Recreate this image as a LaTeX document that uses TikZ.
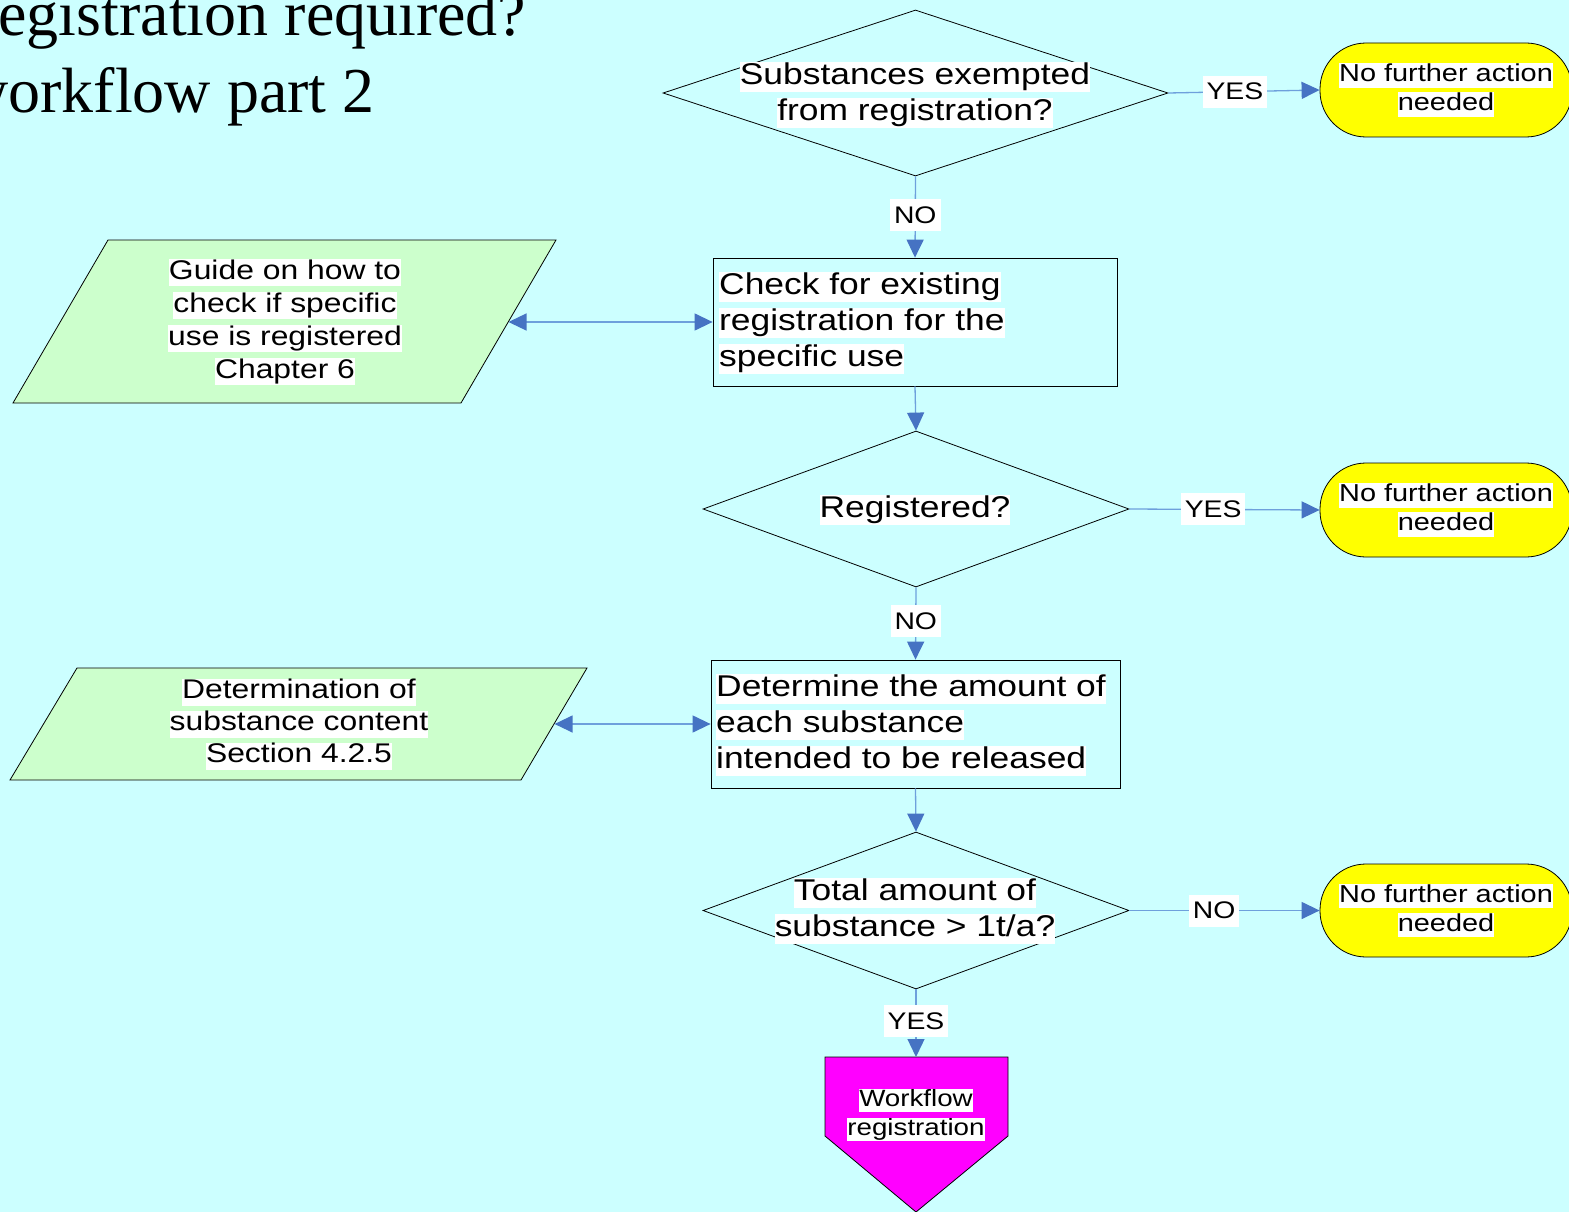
\documentclass[tikz,border=0pt]{standalone}
\usepackage{fontspec}
\setmainfont{Liberation Sans}[FakeStretch=1.18]
\newfontfamily\titlefont{Liberation Serif}
\usetikzlibrary{arrows.meta,shapes.geometric}
\definecolor{bgcyan}{RGB}{204,255,255}
\definecolor{linkblue}{RGB}{110,160,220}
\definecolor{tipblue}{RGB}{70,115,195}
\definecolor{paleg}{RGB}{204,255,204}
\definecolor{termyellow}{RGB}{255,255,0}
\definecolor{pentmagenta}{RGB}{255,0,255}
\newcommand\hlt[1]{{\setlength{\fboxsep}{0pt}\colorbox{white}{\rule[-0.25em]{0pt}{1em}#1}}}
\tikzset{
  conn/.style={draw=linkblue, line width=1.3pt, -{Triangle[length=18pt,width=17pt,color=tipblue]}},
  dconn/.style={draw=linkblue, line width=1.3pt, {Triangle[length=18pt,width=17pt,color=tipblue]}-{Triangle[length=18pt,width=17pt,color=tipblue]}},
  lbl/.style={fill=white, inner xsep=4pt, inner ysep=0pt, minimum height=32pt, font=\fontsize{24}{29}\selectfont, text=black},
  diam/.style={diamond, draw=black, line width=0.8pt, inner sep=0pt},
  boxx/.style={rectangle, draw=black, line width=0.8pt, inner sep=0pt},
  term/.style={rectangle, rounded corners=46pt, draw=black, line width=0.8pt, fill=termyellow, inner sep=0pt, align=center, font=\fontsize{24.5}{29}\selectfont},
  maintxt/.style={inner sep=0pt, font=\fontsize{30}{36}\selectfont},
  sidetxt/.style={inner sep=0pt, align=center, font=\fontsize{27}{33}\selectfont},
  shapeline/.style={draw=black, line width=0.8pt},
  titletxt/.style={inner sep=0pt, anchor=base west, font=\titlefont\fontsize{64}{72}\selectfont}
}
\begin{document}
\begin{tikzpicture}[x=1pt,y=-1pt]
\useasboundingbox (0,0) rectangle (1569,1212);
\clip (0,0) rectangle (1569,1212);
\fill[bgcyan] (0,0) rectangle (1569,1212);

% title
\node[titletxt] (title1) at (-23,36) {registration required?};
\node[titletxt] (title2) at (-38,113) {workflow part 2};

% decision 1
\node[diam, minimum width=505pt, minimum height=166pt] (d1) at (915.5,93) {};
\node[maintxt, align=center] (d1t) at (915,95) {\hlt{Substances exempted}\\\hlt{from registration?}};
\node[term, minimum width=252pt, minimum height=94pt] (t1) at (1446,90) {\hlt{No further action}\\\hlt{needed}};

% box 1
\node[boxx, minimum width=404pt, minimum height=128pt] (b1) at (915,322) {};
\node[maintxt, align=left, anchor=west] (b1t) at (719,323) {\hlt{Check for existing}\\\hlt{registration for the}\\\hlt{specific use}};

% parallelogram 1
\draw[shapeline, fill=paleg] (108,240) -- (556,240) -- (461,403) -- (13,403) -- cycle;
\coordinate (p1r) at (508.5,322);
\node[sidetxt] (p1t) at (285,322) {\hlt{Guide on how to}\\\hlt{check if specific}\\\hlt{use is registered}\\\hlt{Chapter 6}};

% decision 2
\node[diam, minimum width=426pt, minimum height=156pt] (d2) at (916,509) {};
\node[maintxt] (d2t) at (915,510) {\hlt{Registered?}};
\node[term, minimum width=252pt, minimum height=94pt] (t2) at (1446,510) {\hlt{No further action}\\\hlt{needed}};

% box 2
\node[boxx, minimum width=409pt, minimum height=128pt] (b2) at (915.5,724) {};
\node[maintxt, align=left, anchor=west] (b2t) at (716,725) {\hlt{Determine the amount of}\\\hlt{each substance}\\\hlt{intended to be released}};

% parallelogram 2
\draw[shapeline, fill=paleg] (77,668) -- (587,668) -- (521,780) -- (10,780) -- cycle;
\coordinate (p2r) at (554.6,724);
\node[sidetxt, font=\fontsize{27}{32}\selectfont] (p2t) at (299,724) {\hlt{Determination of}\\\hlt{substance content}\\\hlt{Section 4.2.5}};

% decision 3
\node[diam, minimum width=426pt, minimum height=157pt] (d3) at (916,910.5) {};
\node[maintxt, align=center] (d3t) at (915,911) {\hlt{Total amount of}\\\hlt{substance > 1t/a?}};
\node[term, minimum width=252pt, minimum height=93pt] (t3) at (1446,910.5) {\hlt{No further action}\\\hlt{needed}};

% off-page connector
\draw[shapeline, fill=pentmagenta] (825,1057) -- (1008,1057) -- (1008,1136) -- (916,1212) -- (825,1136) -- cycle;
\coordinate (pent) at (916,1057);
\node[inner sep=0pt, align=center, font=\fontsize{23.5}{29}\selectfont] (pt) at (916,1115) {\hlt{Workflow}\\\hlt{registration}};

% connectors
\draw[conn] (d1.east) -- node[lbl, pos=0.44] {YES} (t1.west);
\draw[conn] (d1.south) -- node[lbl, pos=0.48] {NO} (b1.north);
\draw[dconn] (p1r) -- (b1.west);
\draw[conn] (b1.south) -- (d2.north);
\draw[conn] (d2.east) -- node[lbl, pos=0.44] {YES} (t2.west);
\draw[conn] (d2.south) -- node[lbl, pos=0.47] {NO} (b2.north);
\draw[dconn] (p2r) -- (b2.west);
\draw[conn] (b2.south) -- (d3.north);
\draw[conn] (d3.east) -- node[lbl, pos=0.445] {NO} (t3.west);
\draw[conn] (d3.south) -- node[lbl, pos=0.47] {YES} (pent);
\end{tikzpicture}
\end{document}
